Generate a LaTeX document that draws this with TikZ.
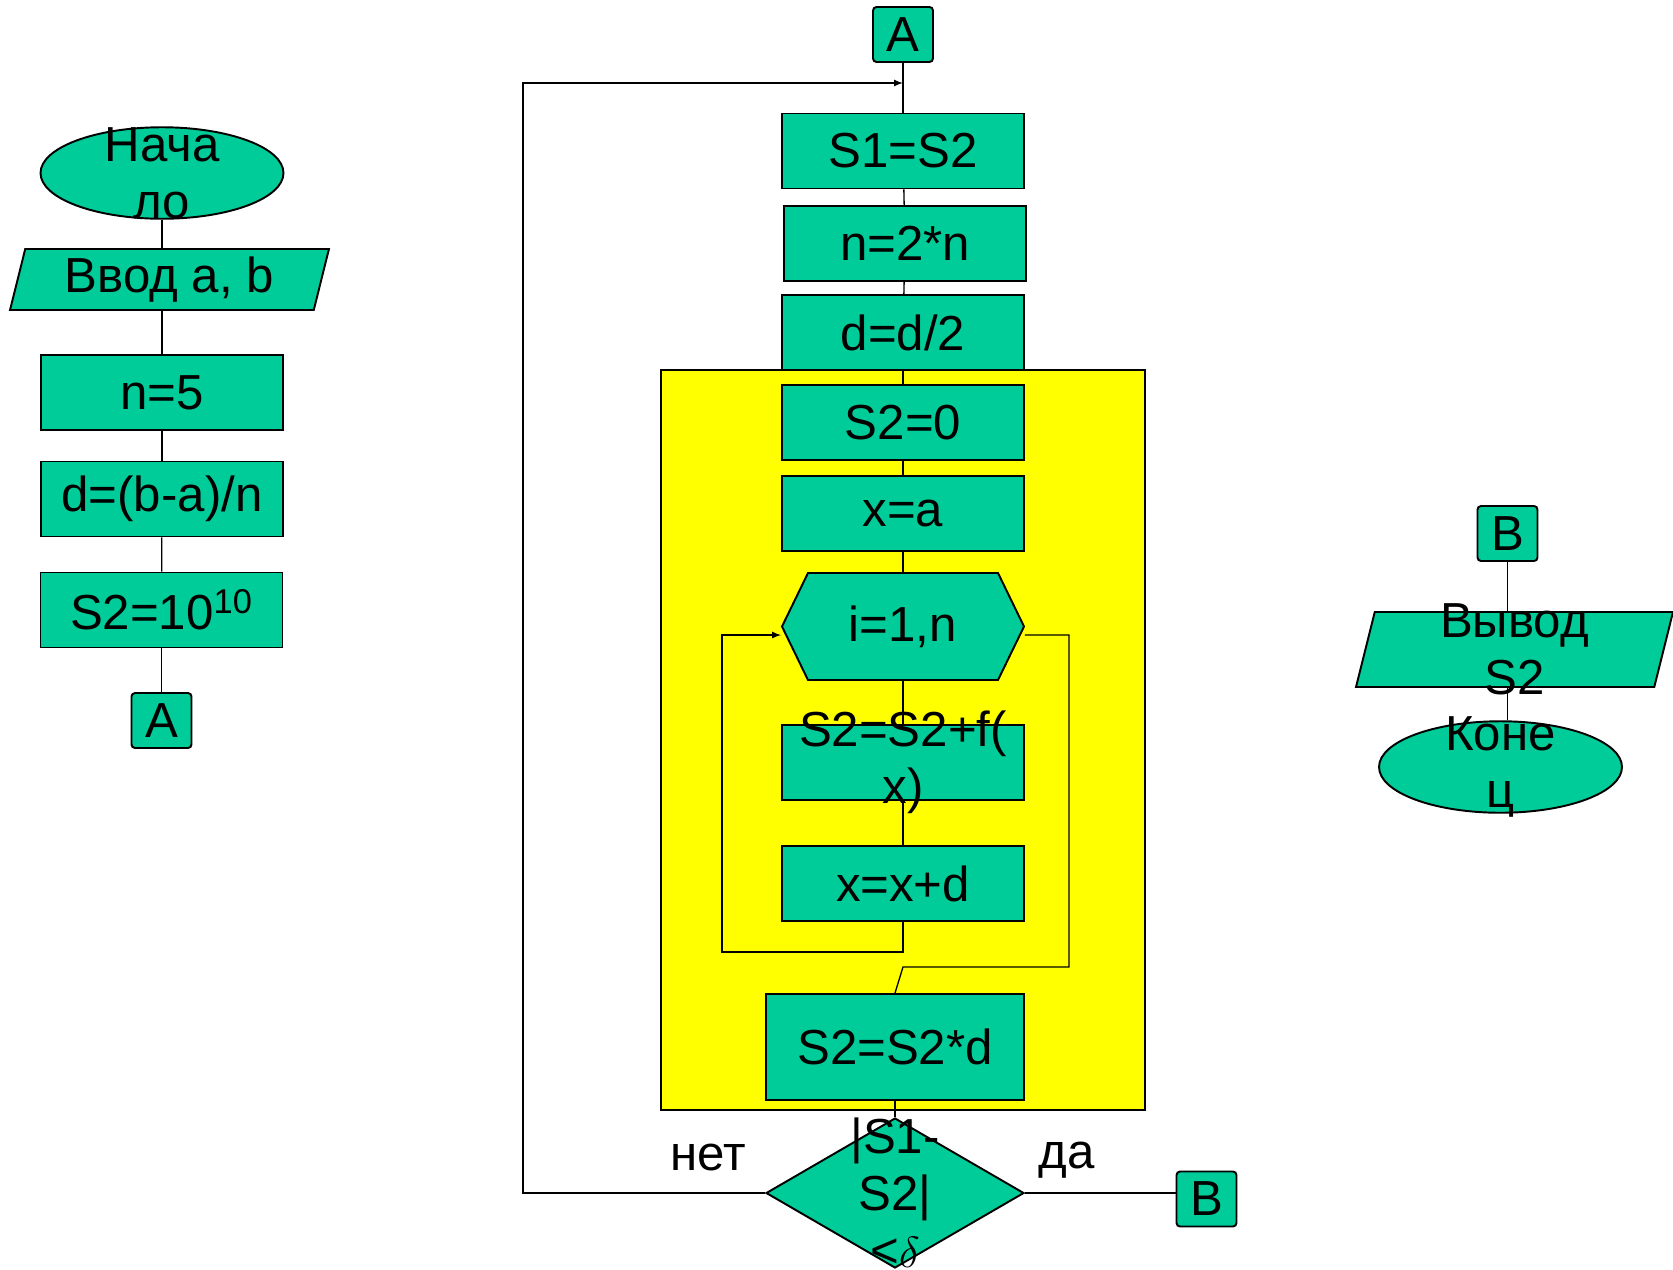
\documentclass[tikz,border=0pt]{standalone}
\usepackage{fontspec}
\setmainfont{Liberation Sans}
\usetikzlibrary{shapes.geometric}
\definecolor{blockgreen}{RGB}{0,204,153}
\definecolor{loopyellow}{RGB}{255,255,0}

\begin{document}
\begin{tikzpicture}[
        x = 0.02cm,
        y = -0.02cm,
        >= latex,
        font = \fontsize{28}{32.5}\selectfont,
        line width = 0.75pt,
        block/.style = {draw, fill=blockgreen, line width=1.1pt, inner sep=0pt},
        proc/.style = {block, rectangle, minimum width=4.84cm, minimum height=1.5cm},
        term/.style = {block, ellipse, minimum width=4.86cm, minimum height=1.83cm},
        io/.style = {block, trapezium, trapezium left angle=76, trapezium right angle=104,
            trapezium stretches body},
        conn/.style = {block, rectangle, rounded corners=2pt, minimum width=1.2cm, minimum height=1.1cm},
        decision/.style = {block, diamond, minimum width=5.16cm, minimum height=3cm}
    ]
        \useasboundingbox (0,0) rectangle (1673,1269);

        \node [term, label={[align=center]center:Нача\\ло}] (start) at (162,173) {};
        \node [io, minimum width=6.38cm, label={center:Ввод a, b}] (input) at (169.5,279.5) {\rule[-0.61cm]{0pt}{1.22cm}};
        \node [proc] (nfive) at (162,392.5) {n=5};
        \node [proc] (dstep) at (162,499) {d=(b-a)/n};
        \node [proc] (sinit) at (161.5,610) {S2=10\textsuperscript{10}};
        \node [conn] (conA) at (161.5,720.5) {A};
        \draw (start.south)--(start.south |- input.north);
        \draw (nfive.north |- input.south)--(nfive.north);
        \draw (nfive)--(dstep);
        \draw (dstep)--(sinit);
        \draw (sinit)--(conA);

        \draw [fill=loopyellow, line width=1pt] (661,370) rectangle (1145,1110);
        \node [conn] (conAtop) at (903,34.5) {A};
        \node [proc] (sone) at (903,151) {S1=S2};
        \node [proc] (ntwo) at (905,243.5) {n=2*n};
        \node [proc] (dhalf) at (903,332.5) {d=d/2};
        \node [proc] (szero) at (903,422.5) {S2=0};
        \node [proc] (xa) at (903,513.5) {x=a};
        \draw [block] (782,626.5)--(808,573)--(998,573)--(1024,626.5)--(998,680)--(808,680)--cycle;
        \node [proc, draw=none, fill=none, minimum height=2.14cm] (loop) at (903,626.5) {i=1,n};
        \node [proc, label={[align=center]center:S2=S2+f(\\x)}] (sum) at (903,762.5) {};
        \node [proc] (xstep) at (903,883.5) {x=x+d};
        \node [proc, minimum width=5.16cm, minimum height=2.12cm] (smul) at (895,1047) {S2=S2*d};
        \node [decision, label={[align=center]center:|S1-\\S2|\\<$\delta$}] (cond) at (895,1193) {};
        \node [conn] (conB) at (1206.5,1199) {B};
        \node [anchor=base] (no) at (708,1170) {нет};
        \node [anchor=base] (yes) at (1067,1168) {да};
        \coordinate (join) at (903,83);
        \coordinate (backtop) at (523,83);
        \coordinate (loopdown) at (722,952);
        \coordinate (exitcorner) at (1069,967);
        \coordinate (exitturn) at (903,967);
        \draw (conAtop)--(sone);
        \draw (sone)--(ntwo);
        \draw (ntwo)--(dhalf);
        \draw (dhalf)--(szero);
        \draw (szero)--(xa);
        \draw (xa)--(loop);
        \draw (loop)--(sum);
        \draw (sum)--(xstep);
        \draw [->] (xstep.south) |- (loopdown) |- ([yshift=-0.17cm]loop.west);
        \draw ([yshift=-0.17cm]loop.east) -| (exitcorner)--(exitturn)--(smul.north);
        \draw (smul)--(cond);
        \draw [->] (cond.west) -| (backtop)--(join);
        \draw (cond.east)--(cond.east -| conB.west);

        \node [conn] (conBtop) at (1507.5,533.5) {B};
        \node [io, minimum width=6.34cm, label={[align=center]center:Вывод\\S2}] (output) at (1514.5,649.5) {\rule[-0.75cm]{0pt}{1.5cm}};
        \node [term, label={[align=center]center:Коне\\ц}] (finish) at (1500.5,767) {};
        \draw (conBtop.south)--(conBtop.south |- output.north);
        \draw (conBtop.south |- output.south)--(conBtop.south |- finish.north);
\end{tikzpicture}
\end{document}
